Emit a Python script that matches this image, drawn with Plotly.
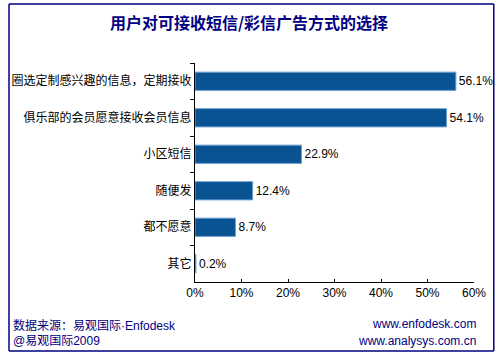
import plotly.graph_objects as go

categories = ["圈选定制感兴趣的信息，定期接收", "俱乐部的会员愿意接收会员信息", "小区短信", "随便发", "都不愿意", "其它"]
values = [56.1, 54.1, 22.9, 12.4, 8.7, 0.2]
value_labels = ["56.1%", "54.1%", "22.9%", "12.4%", "8.7%", "0.2%"]
x_ticks = [0, 10, 20, 30, 40, 50, 60]
x_tick_labels = ["0%", "10%", "20%", "30%", "40%", "50%", "60%"]

title_text = "用户对可接收短信/彩信广告方式的选择"
source_text = "数据来源：易观国际·Enfodesk"
copyright_text = "@易观国际2009"
url1 = "www.enfodesk.com"
url2 = "www.analysys.com.cn"

NAVY = "#000080"
CJK = "Noto Sans CJK SC"
LATIN = "Liberation Sans, Arial, sans-serif"
MIXED = "Liberation Sans, Noto Sans CJK SC, sans-serif"

W, H = 498, 357
ML, MR, MT, MB = 193, 23, 63, 75
pw, ph = W - ML - MR, H - MT - MB

def px_x(x):
    return (x - ML) / pw

def px_y(y):
    return (H - MB - y) / ph

fig = go.Figure()
fig.add_trace(go.Bar(
    x=values, y=categories, orientation="h",
    marker=dict(color="#0a5393", line=dict(color="#6c9fd2", width=1)),
    width=0.5,
    text=value_labels, textposition="outside", cliponaxis=False,
    textfont=dict(family=LATIN, size=12, color="#000000"),
    hoverinfo="skip",
))

fig.update_layout(
    width=W, height=H,
    margin=dict(l=ML, r=MR, t=MT, b=MB, pad=0),
    paper_bgcolor="white", plot_bgcolor="white",
    showlegend=False,
    title=dict(text=f"<b>{title_text}</b>", x=0.5, xanchor="center",
               y=1 - 23 / H, yanchor="middle",
               font=dict(family=CJK, size=16, color=NAVY)),
    xaxis=dict(range=[0, 60], tickvals=x_ticks, ticktext=x_tick_labels,
               ticks="inside", ticklen=3, tickcolor="#000000",
               showline=True, linecolor="#000000", linewidth=1,
               showgrid=False, zeroline=False,
               tickfont=dict(family=LATIN, size=12, color="#000000")),
    yaxis=dict(type="category", categoryorder="array", categoryarray=categories,
               autorange="reversed", tickson="boundaries",
               ticks="outside", ticklen=4, tickcolor="#000000",
               showline=True, linecolor="#000000", linewidth=1,
               showgrid=False, zeroline=False,
               tickfont=dict(family=CJK, size=12, color="#000000")),
    bargap=0.5,
)

frame = dict(type="line", xref="paper", yref="paper", line=dict(color=NAVY, width=1.5), layer="above")
fx0, fx1, fy0, fy1 = px_x(5), px_x(495), px_y(351), px_y(4)
fig.add_shape(x0=fx0, x1=fx1, y0=fy1, y1=fy1, **frame)
fig.add_shape(x0=fx0, x1=fx1, y0=fy0, y1=fy0, **frame)
fig.add_shape(x0=fx0, x1=fx0, y0=fy0, y1=fy1, **frame)
fig.add_shape(x0=fx1, x1=fx1, y0=fy0, y1=fy1, **frame)

ann_font = dict(family=MIXED, size=12, color=NAVY)
url_font = dict(family=LATIN, size=12, color=NAVY)
fig.add_annotation(text=source_text, xref="paper", yref="paper", x=px_x(7), y=px_y(325),
                   xanchor="left", yanchor="middle", showarrow=False, font=ann_font)
fig.add_annotation(text=copyright_text, xref="paper", yref="paper", x=px_x(7), y=px_y(341),
                   xanchor="left", yanchor="middle", showarrow=False, font=ann_font)
fig.add_annotation(text=url1, xref="paper", yref="paper", x=px_x(479), y=px_y(324),
                   xanchor="right", yanchor="middle", showarrow=False, font=url_font)
fig.add_annotation(text=url2, xref="paper", yref="paper", x=px_x(479), y=px_y(341),
                   xanchor="right", yanchor="middle", showarrow=False, font=url_font)

fig.write_html("out.html", config={"displayModeBar": False},
               post_script="document.body.style.margin='0';document.body.style.overflow='hidden';")
